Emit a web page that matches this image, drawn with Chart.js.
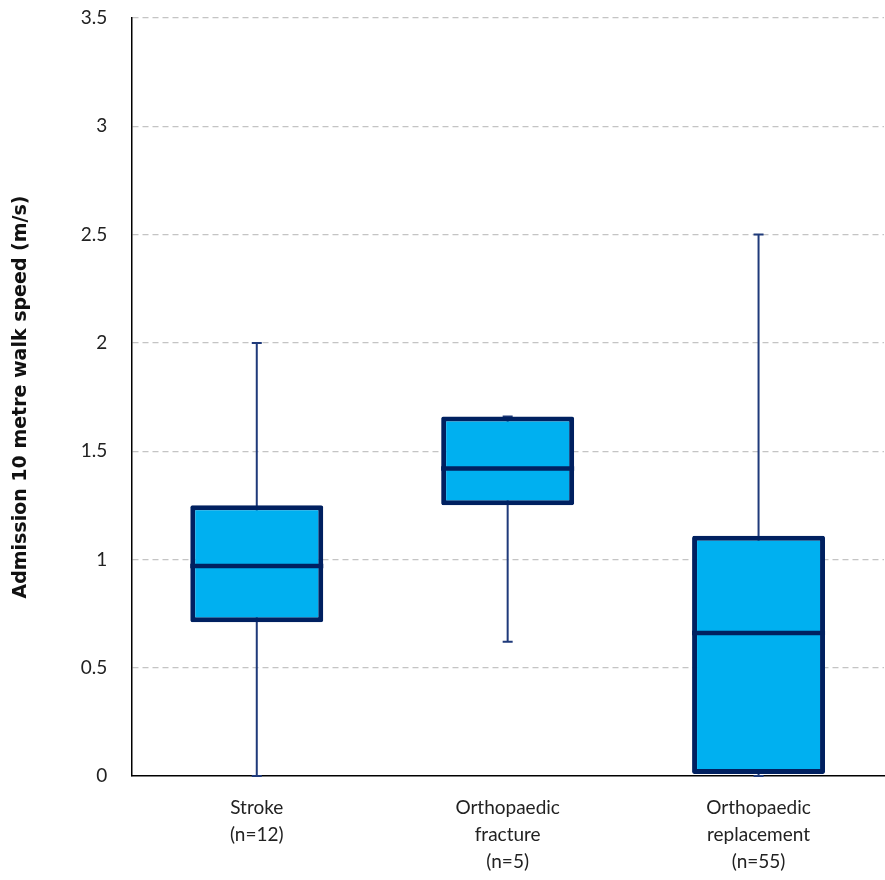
<!DOCTYPE html>
<html>
<head>
<meta charset="utf-8">
<script src="https://cdn.jsdelivr.net/npm/chart.js@4"></script>
<style>
  body { margin: 0; background: #fff; }
  #wrap { width: 885px; height: 880px; }
</style>
</head>
<body>
<div id="wrap"><canvas id="boxChart" width="885" height="880"></canvas></div>
<script>
// categories and box plot values (m/s)
var labels = [['Stroke', '(n=12)'], ['Orthopaedic', 'fracture', '(n=5)'], ['Orthopaedic', 'replacement', '(n=55)']];
var minVals = [0.0, 0.62, 0.0];
var q1Vals = [0.71, 1.25, 0.01];
var medianVals = [0.97, 1.42, 0.66];
var q3Vals = [1.25, 1.66, 1.11];
var maxVals = [2.0, 1.66, 2.5];

var boxes = q1Vals.map(function (q1, i) { return [q1, q3Vals[i]]; });

// whiskers + median drawn through the chart scales
var boxPlugin = {
    id: 'boxExtras',
    beforeDatasetsDraw: function (chart) {
        var ctx = chart.ctx;
        var y = chart.scales.y;
        var meta = chart.getDatasetMeta(0);
        ctx.save();
        ctx.strokeStyle = '#1F3A7A';
        ctx.lineWidth = 2;
        meta.data.forEach(function (bar, i) {
            var x = bar.x;
            var yMin = y.getPixelForValue(minVals[i]);
            var yMax = y.getPixelForValue(maxVals[i]);
            ctx.beginPath();
            ctx.moveTo(x, yMin); ctx.lineTo(x, yMax);
            ctx.moveTo(x - 5, yMin); ctx.lineTo(x + 5, yMin);
            ctx.moveTo(x - 5, yMax); ctx.lineTo(x + 5, yMax);
            ctx.stroke();
        });
        ctx.restore();
    },
    afterDatasetsDraw: function (chart) {
        var ctx = chart.ctx;
        var y = chart.scales.y;
        var meta = chart.getDatasetMeta(0);
        ctx.save();
        ctx.strokeStyle = '#002060';
        ctx.lineWidth = 4.5;
        meta.data.forEach(function (bar, i) {
            var half = bar.width / 2;
            var ym = y.getPixelForValue(medianVals[i]);
            ctx.beginPath();
            ctx.moveTo(bar.x - half, ym); ctx.lineTo(bar.x + half, ym);
            ctx.stroke();
        });
        ctx.restore();
    }
};

var ctx = document.getElementById('boxChart').getContext('2d');
var myChart = new Chart(ctx, {
    type: 'bar',
    data: {
        labels: labels,
        datasets: [{
            label: 'Admission 10 metre walk speed',
            data: boxes,
            backgroundColor: '#00B0F0',
            borderColor: '#002060',
            borderWidth: 5,
            borderSkipped: false,
            borderRadius: 2,
            barPercentage: 1,
            categoryPercentage: 0.53
        }]
    },
    options: {
        responsive: false,
        animation: false,
        layout: { padding: { top: 0, right: 1, left: 10, bottom: -5 } },
        plugins: {
            legend: { display: false },
            tooltip: { enabled: false }
        },
        scales: {
            x: {
                grid: { display: false },
                border: { color: '#000', width: 1.5 },
                ticks: {
                    color: '#222',
                    font: { family: 'Lato', size: 19, lineHeight: 1.42 },
                    padding: 10
                }
            },
            y: {
                min: 0,
                max: 3.5,
                afterFit: function (scale) { scale.paddingTop = 18; },
                ticks: {
                    stepSize: 0.5,
                    color: '#222',
                    font: { family: 'Lato', size: 19 },
                    padding: 24,
                    callback: function (v) { return String(v); }
                },
                grid: {
                    color: function (c) { return c.tick.value === 0 ? 'rgba(0,0,0,0)' : '#C4C4C4'; },
                    drawTicks: false,
                    lineWidth: 1.2
                },
                border: { color: '#000', width: 1.5, dash: [6, 4], display: true },
                title: {
                    display: true,
                    text: 'Admission 10 metre walk speed (m/s)',
                    color: '#111',
                    font: { family: 'DejaVu Sans', size: 19, weight: 'bold' },
                    padding: { top: 0, bottom: 24 }
                }
            }
        }
    },
    plugins: [boxPlugin]
});
</script>
</body>
</html>
